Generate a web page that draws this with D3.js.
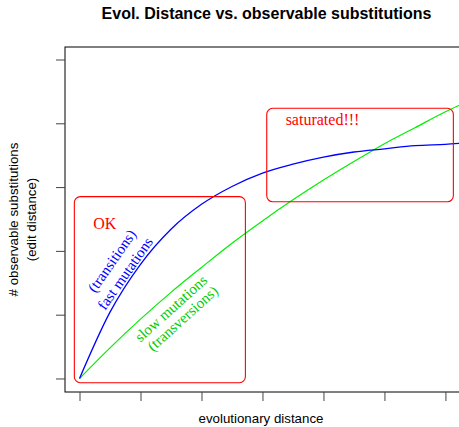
<!DOCTYPE html>
<html>
<head>
    <title>evol distance vs observable substitutions</title>
    <script type="text/javascript" src="https://cdn.jsdelivr.net/npm/d3@7/dist/d3.min.js"></script>
    <style type="text/css">
        body { margin: 0; background: #fff; }
    </style>
</head>
<body>
    <svg width="459" height="427"></svg>
</body>

<script type="text/javascript">
    // evolutionary distance (x) and observable substitutions
    let distance = [0, 0.5, 1, 1.5, 2, 2.5, 3, 3.5, 4, 4.5, 5, 5.5, 6, 6.5, 7];
    let fast = [0, 1.04, 1.79, 2.34, 2.73, 3.01, 3.22, 3.36, 3.47, 3.55, 3.60, 3.65, 3.67, 3.70, 3.71];
    let slow = [0, 0.48, 0.93, 1.35, 1.74, 2.12, 2.47, 2.80, 3.11, 3.40, 3.68, 3.93, 4.18, 4.40, 4.62];
    let xTicks = [0, 1, 2, 3, 4, 5, 6];
    let yTicks = [0, 1, 2, 3, 4, 5];

    // annotation boxes, in data units [x0, x1, y0, y1]
    let okBox = [-0.085, 2.72, -0.066, 2.85];
    let satBox = [3.07, 6.13, 2.77, 4.235];

    let svg = d3.select("svg");
    let pLeft = 65, pRight = 468, pTop = 47, pBottom = 392;

    let x = d3.scaleLinear().domain([-0.238, 6.37]).range([pLeft, pRight]);
    let y = d3.scaleLinear().domain([-0.212, 5.196]).range([pBottom, pTop]);

    // clip the curves to the plot box
    svg.append("clipPath").attr("id", "plot")
        .append("rect")
        .attr("x", pLeft).attr("y", pTop)
        .attr("width", pRight - pLeft).attr("height", pBottom - pTop);

    // frame
    svg.append("rect")
        .attr("x", pLeft).attr("y", pTop)
        .attr("width", pRight - pLeft).attr("height", pBottom - pTop)
        .attr("fill", "none").attr("stroke", "#000").attr("stroke-width", 1);

    let xAxis = svg.append("g")
        .attr("transform", "translate(0," + pBottom + ")")
        .call(d3.axisBottom(x).tickValues(xTicks).tickSize(9).tickFormat(""));
    let yAxis = svg.append("g")
        .attr("transform", "translate(" + pLeft + ",0)")
        .call(d3.axisLeft(y).tickValues(yTicks).tickSize(9).tickFormat(""));
    [xAxis, yAxis].forEach(function(a) {
        a.select(".domain").remove();
        a.selectAll("line").attr("stroke", "#444");
    });

    let line = function(vals) {
        return d3.line()
            .x(function(d, i) { return x(distance[i]); })
            .y(function(d) { return y(d); })
            .curve(d3.curveMonotoneX)(vals);
    };

    let curves = svg.append("g").attr("clip-path", "url(#plot)");
    curves.append("path").attr("d", line(slow))
        .attr("fill", "none").attr("stroke", "#00ee00").attr("stroke-width", 1.2);
    curves.append("path").attr("d", line(fast))
        .attr("fill", "none").attr("stroke", "#0000ff").attr("stroke-width", 1.3);

    [okBox, satBox].forEach(function(b) {
        svg.append("rect")
            .attr("x", x(b[0])).attr("y", y(b[3]))
            .attr("width", x(b[1]) - x(b[0])).attr("height", y(b[2]) - y(b[3]))
            .attr("rx", 6).attr("ry", 6)
            .attr("fill", "none").attr("stroke", "#ff0000").attr("stroke-width", 1.1);
    });

    let serif = "'Liberation Serif', 'Times New Roman', serif";
    let sans = "'Liberation Sans', Arial, sans-serif";

    svg.append("text").attr("x", x(0.226)).attr("y", y(2.35))
        .attr("font-family", serif).attr("font-size", 16).attr("fill", "#ff0000")
        .text("OK");
    svg.append("text").attr("x", x(3.38)).attr("y", y(3.97))
        .attr("font-family", serif).attr("font-size", 16).attr("fill", "#ff0000")
        .text("saturated!!!");

    // labels along the curves
    let notes = [
        { t: "(transitions)", cx: 0.528, cy: 1.845, a: -55, c: "#0000ff" },
        { t: "fast mutations", cx: 0.746, cy: 1.649, a: -55, c: "#0000ff" },
        { t: "slow mutations", cx: 1.497, cy: 1.100, a: -42, c: "#00cc00" },
        { t: "(transversions)", cx: 1.689, cy: 0.944, a: -42, c: "#00cc00" }
    ];
    notes.forEach(function(n) {
        svg.append("text")
            .attr("transform", "translate(" + x(n.cx) + "," + y(n.cy) + ") rotate(" + n.a + ")")
            .attr("text-anchor", "middle").attr("dy", "0.35em")
            .attr("font-family", serif).attr("font-size", 15).attr("fill", n.c)
            .text(n.t);
    });

    // titles
    svg.append("text").attr("x", (pLeft + pRight) / 2).attr("y", 19)
        .attr("text-anchor", "middle")
        .attr("font-family", sans).attr("font-weight", "bold").attr("font-size", 16)
        .text("Evol. Distance vs. observable substitutions");
    svg.append("text").attr("x", 261).attr("y", 423)
        .attr("text-anchor", "middle")
        .attr("font-family", sans).attr("font-size", 13.3)
        .text("evolutionary distance");
    let ylab = ["# observable substitutions", "(edit distance)"];
    ylab.forEach(function(s, i) {
        svg.append("text")
            .attr("transform", "translate(" + (18 + i * 18) + "," + (pTop + pBottom) / 2 + ") rotate(-90)")
            .attr("text-anchor", "middle")
            .attr("font-family", sans).attr("font-size", 13.3)
            .text(s);
    });
</script>

</html>
